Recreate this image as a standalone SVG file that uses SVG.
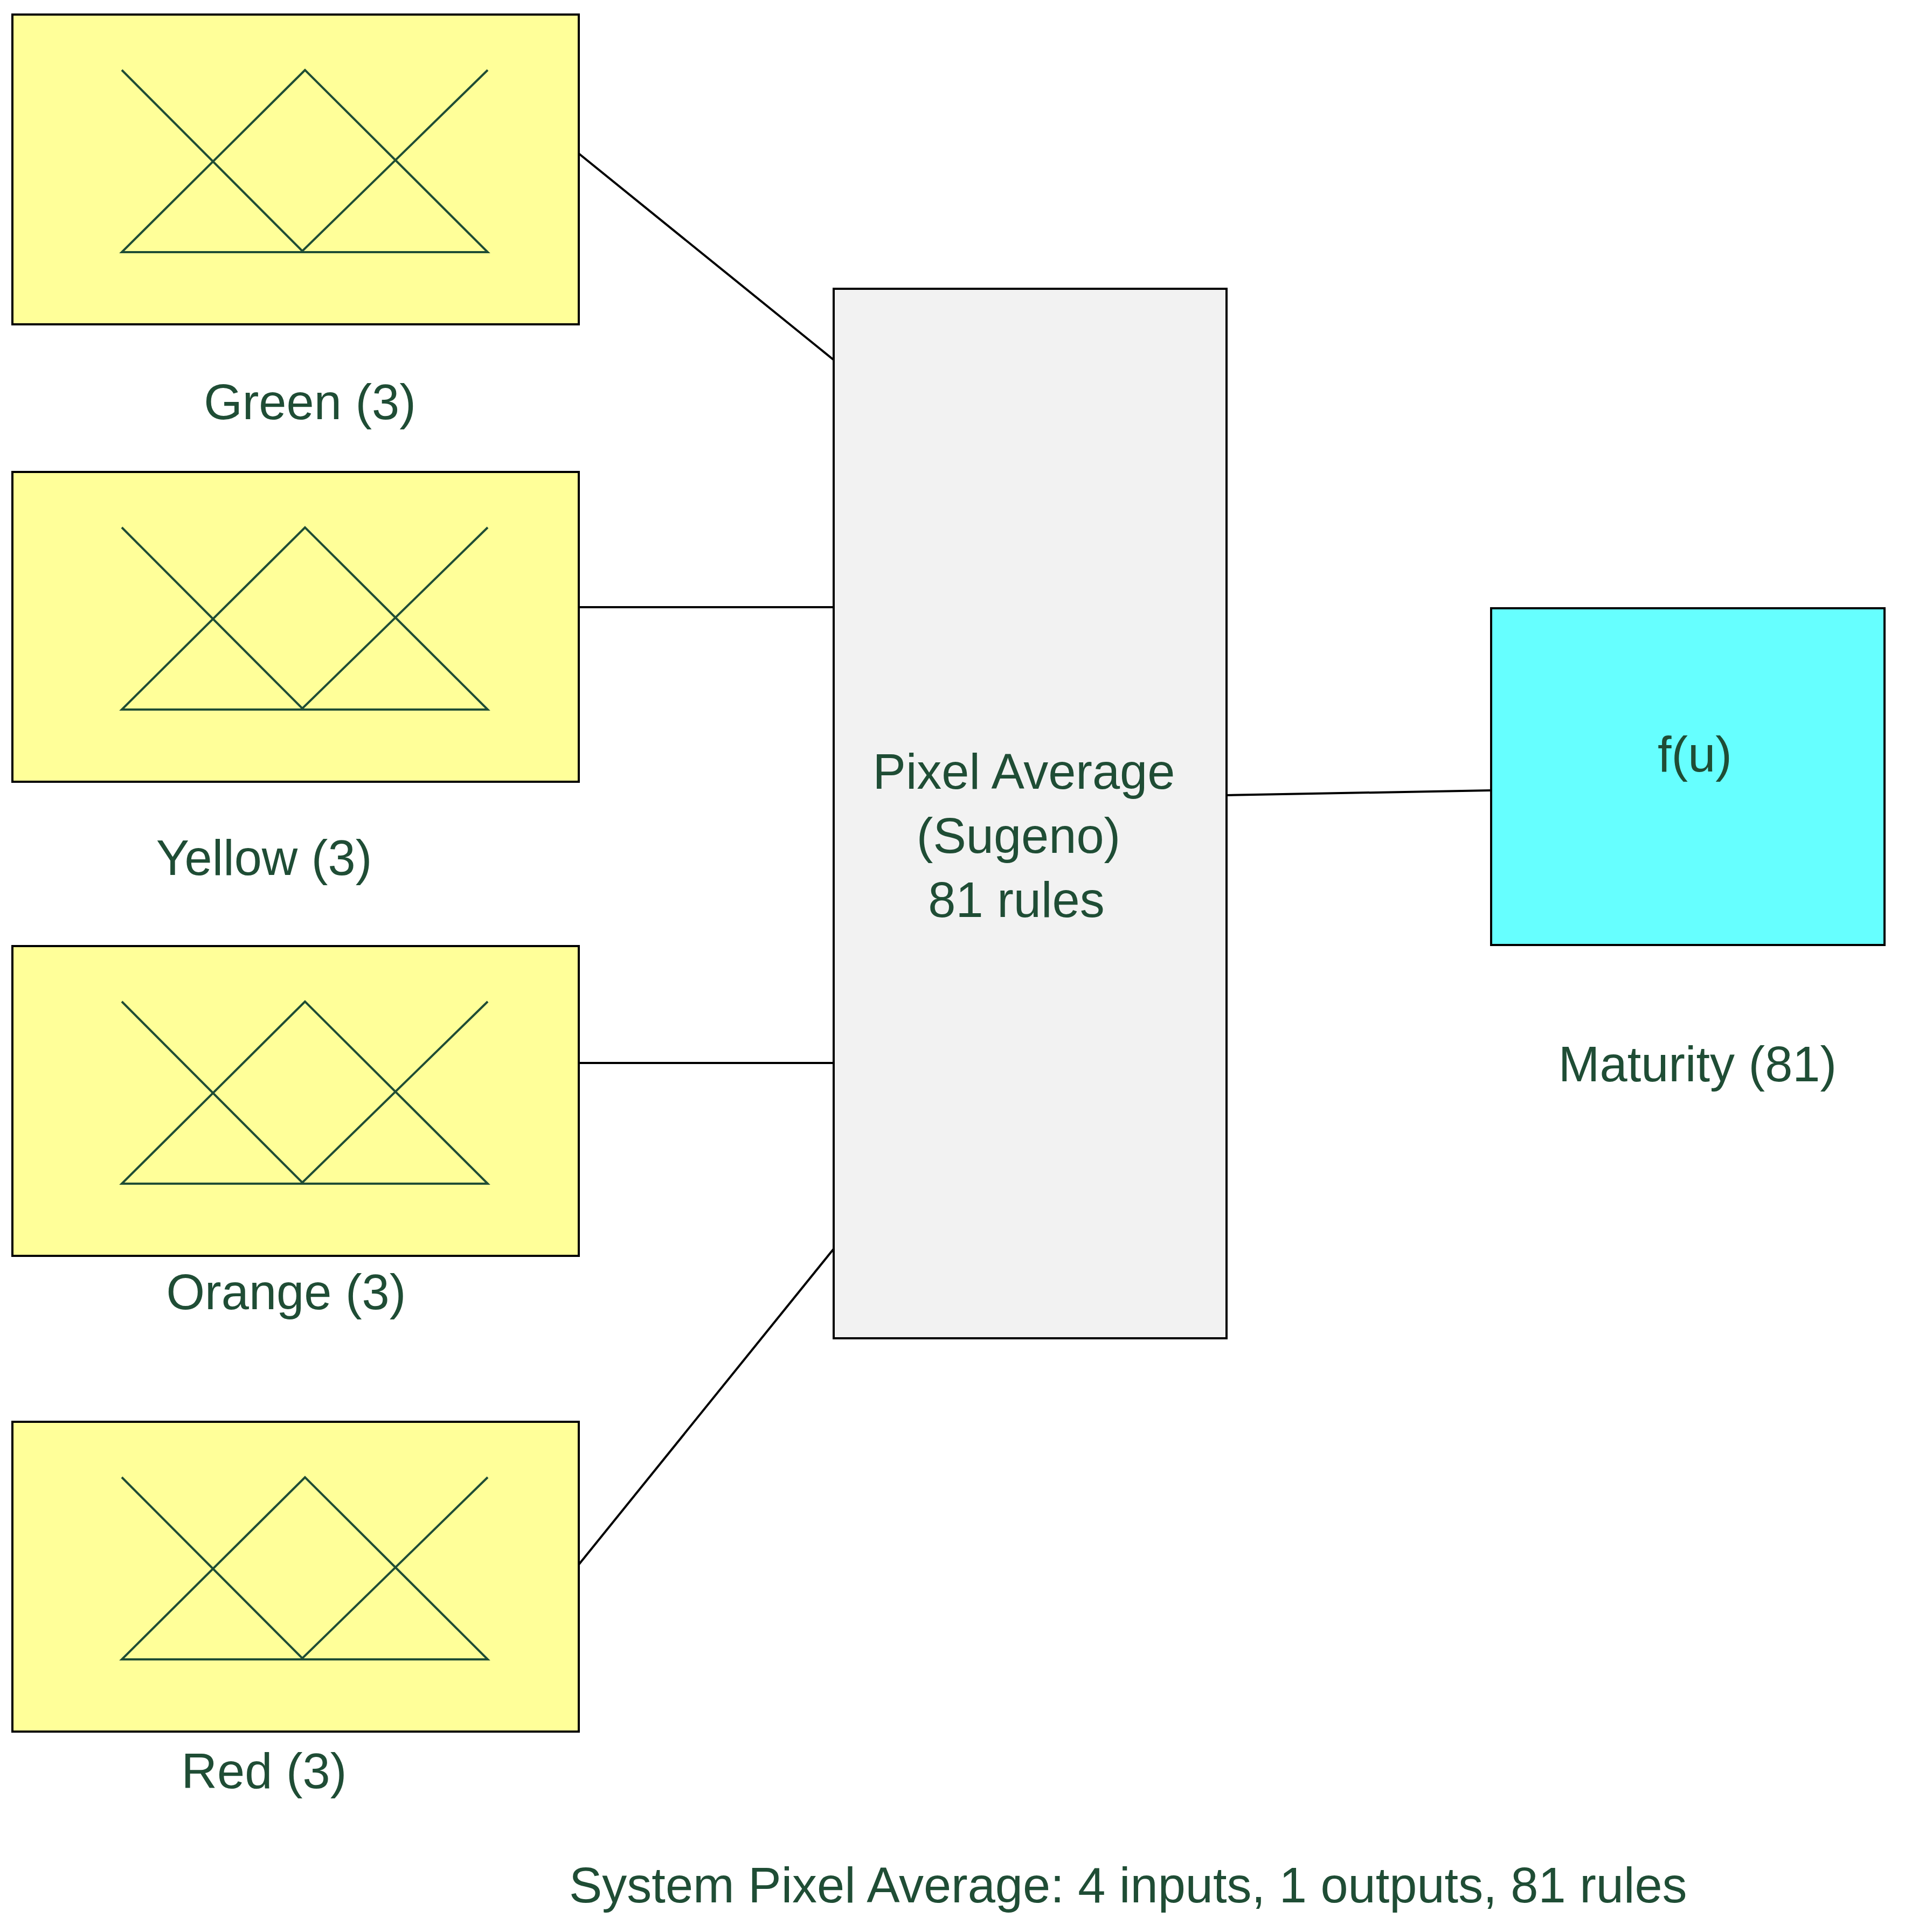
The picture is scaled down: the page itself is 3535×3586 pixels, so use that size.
<svg xmlns="http://www.w3.org/2000/svg" width="3535" height="3586" viewBox="0 0 3535 3586">
<style>
.in{fill:#ffff99;stroke:#000;stroke-width:4}
.mf{fill:none;stroke:#1f4d35;stroke-width:4}
.t{font-family:"Liberation Sans",Arial,sans-serif;font-size:92px;fill:#1f4d35}
.c{stroke:#000;stroke-width:4;fill:none}
</style>
<defs>
<g id="mfs">
<path class="mf" d="M226,103 L561,439 L905,103 M566,103 L226,441 L905,441 Z"/>
</g>
</defs>
<rect width="3535" height="3586" fill="#fff"/>
<g id="connectors">
<line class="c" x1="1074" y1="285" x2="1547" y2="668"/>
<line class="c" x1="1074" y1="1127" x2="1547" y2="1127"/>
<line class="c" x1="1074" y1="1973" x2="1547" y2="1973"/>
<line class="c" x1="1074" y1="2904" x2="1547" y2="2318"/>
<line class="c" x1="2276" y1="1476" x2="2767" y2="1467"/>
</g>
<g id="green"><rect class="in" x="23" y="27" width="1051" height="575"/><use href="#mfs" y="27"/><text class="t" x="575" y="778" text-anchor="middle">Green (3)</text></g>
<g id="yellow"><rect class="in" x="23" y="876" width="1051" height="575"/><use href="#mfs" y="876"/><text class="t" x="490" y="1624" text-anchor="middle">Yellow (3)</text></g>
<g id="orange"><rect class="in" x="23" y="1756" width="1051" height="575"/><use href="#mfs" y="1756"/><text class="t" x="531" y="2430" text-anchor="middle">Orange (3)</text></g>
<g id="red"><rect class="in" x="23" y="2639" width="1051" height="575"/><use href="#mfs" y="2639"/><text class="t" x="490" y="3319" text-anchor="middle">Red (3)</text></g>
<g id="rules"><rect x="1547" y="536" width="729" height="1948" fill="#f2f2f2" stroke="#000" stroke-width="4"/>
<text class="t" x="1900" y="1464" text-anchor="middle">Pixel Average</text>
<text class="t" x="1890" y="1583" text-anchor="middle">(Sugeno)</text>
<text class="t" x="1886" y="1702" text-anchor="middle">81 rules</text></g>
<g id="maturity"><rect x="2767" y="1129" width="730" height="625" fill="#66ffff" stroke="#000" stroke-width="4"/>
<text class="t" x="3145" y="1432" text-anchor="middle">f(u)</text>
<text class="t" x="3150" y="2007" text-anchor="middle">Maturity (81)</text></g>
<text class="t" x="1056" y="3531">System Pixel Average: 4 inputs, 1 outputs, 81 rules</text>
</svg>
